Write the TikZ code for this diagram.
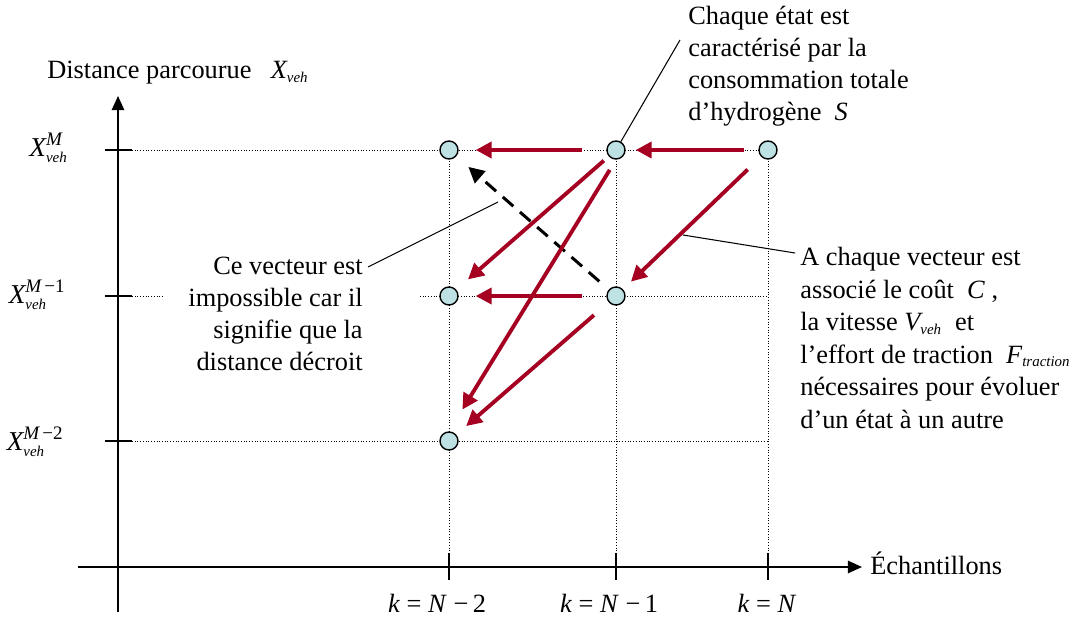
\documentclass[tikz,border=0pt]{standalone}
\usepackage{amsmath}
\usepackage{fontspec}
\setmainfont{Liberation Serif}
\usetikzlibrary{arrows.meta}

\definecolor{etatbleu}{RGB}{190,225,228}
\definecolor{rougefl}{RGB}{165,0,33}
\newcommand{\ind}[1]{\text{\fontsize{8.5}{9}\selectfont\itshape #1}}
\newcommand{\Xveh}[1]{$\textit{X}^{#1}_{\ind{veh}}$}

\begin{document}
\begin{tikzpicture}[x=0.02cm, y=-0.02cm, every node/.style={font=\fontsize{15}{18.1}\selectfont}, >={Triangle[length=8pt,width=7pt]},
	etat/.style={circle, draw, fill=etatbleu, line width=0.8pt, minimum size=0.36cm, inner sep=0pt},
	trans/.style={->, draw=rougefl, line width=2.2pt, >={Triangle[length=9pt,width=9pt]}},
	imposs/.style={->, line width=1.7pt, dash pattern=on 8pt off 5pt, >={Triangle[length=9pt,width=9pt]}},
	grille/.style={densely dotted, line width=0.55pt},
	axe/.style={->, line width=1.1pt},
	rappel/.style={line width=0.6pt},
	bloc/.style={inner sep=0pt},
	ylab/.style={anchor=base east, inner sep=0pt, font=\fontsize{15.5}{18}\selectfont}]
	\useasboundingbox (0,0) rectangle (1077,618);
	% axes et graduations
	\draw[axe] (118,612) -- (118,96);
	\draw[axe] (78,567) -- (862,567);
	\foreach \y in {150,296,441} \draw[line width=1.1pt] (105,\y) -- (132,\y);
	\foreach \x in {449,616,768} \draw[line width=1.1pt] (\x,553) -- (\x,580);
	% grille
	\draw[grille] (132,150) -- (768,150);
	\draw[grille] (132,296) -- (162,296) (420,296) -- (768,296);
	\draw[grille] (132,441) -- (768,441);
	\foreach \x in {449,616,768} \draw[grille] (\x,150) -- (\x,553);
	% etats
	\node[etat] (a1) at (449,150) {};
	\node[etat] (b1) at (616,150) {};
	\node[etat] (c1) at (768,150) {};
	\node[etat] (a2) at (449,296) {};
	\node[etat] (b2) at (616,296) {};
	\node[etat] (a3) at (449,441) {};
	% vecteurs
	\draw[imposs, shorten <=0.25cm, shorten >=0.32cm] (b2) -- (a1);
	\draw[trans, shorten <=0.48cm, shorten >=0.34cm] (b1) -- (a1);
	\draw[trans, shorten <=0.28cm, shorten >=0.2cm] (c1) -- (b1);
	\draw[trans, shorten <=0.48cm, shorten >=0.34cm] (b2) -- (a2);
	\draw[trans, shorten <=0.13cm, shorten >=0.31cm] (b1) -- (a2);
	\draw[trans, shorten <=0.24cm, shorten >=0.51cm] (b1.south) -- (a3.north);
	\draw[trans, shorten <=0.37cm, shorten >=0.22cm] (c1) -- (b2);
	\draw[trans, shorten <=0.39cm, shorten >=0.26cm] (b2) -- (a3);
	% textes
	\node[bloc, anchor=base west] (titrey) at (47,79) {Distance parcourue\hspace{11pt}$\textit{X}_{\ind{veh}}$};
	\node[bloc, anchor=base west] (titrex) at (870,574) {Échantillons};
	\node[ylab] (xm) at (68,156) {\Xveh{\textit{M}}};
	\node[ylab] (xm1) at (66,303) {\Xveh{\textit{M}\,\text{−1}}};
	\node[ylab] (xm2) at (64,450) {\Xveh{\textit{M}\,\text{−2}}};
	\node[bloc, anchor=base] (k2) at (437,612) {\textit{k}~=~\textit{N}~−\,2};
	\node[bloc, anchor=base] (k1) at (609,612) {\textit{k}~=~\textit{N}~−\,1};
	\node[bloc, anchor=base] (k0) at (767,612) {\textit{k}~=~\textit{N}};
	\node[bloc, anchor=north west, align=left] (tetat) at (688,6) {Chaque état est\\caractérisé par la\\consommation totale\\d’hydrogène~~\textit{S}};
	\node[bloc, anchor=north east, align=right] (timposs) at (363,257) {Ce vecteur est\\impossible car il\\signifie que la\\distance décroit};
	\node[bloc, anchor=north west, align=left, font=\fontsize{15}{18.5}\selectfont] (tcout) at (800,247) {A chaque vecteur est\\associé le coût~~\textit{C}~,\\la vitesse~$\textit{V}_{\ind{veh}}$~~et\\l’effort de traction~~$\textit{F}_{\ind{traction}}$\\nécessaires pour évoluer\\d’un état à un autre};
	% rappels
	\coordinate (r1) at (680,40);
	\coordinate (r2a) at (368,267);
	\coordinate (r2b) at (498,202);
	\coordinate (r3a) at (683,235);
	\coordinate (r3b) at (795,253);
	\draw[rappel] (b1) -- (r1);
	\draw[rappel] (r2a) -- (r2b);
	\draw[rappel] (r3a) -- (r3b);
\end{tikzpicture}
\end{document}
